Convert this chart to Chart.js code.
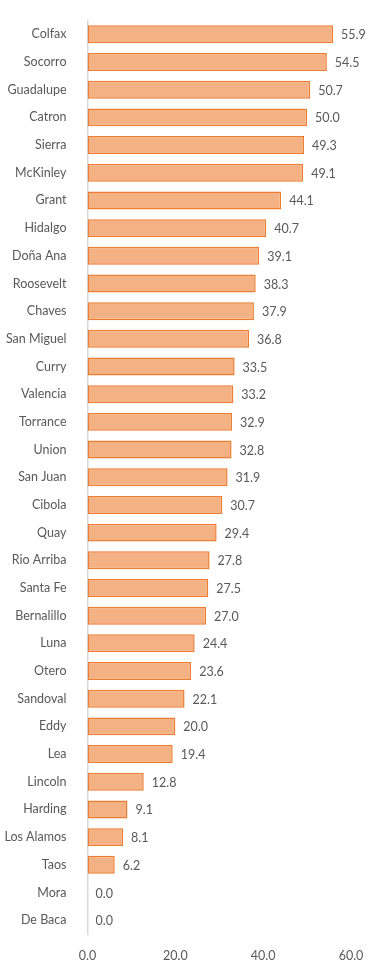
<!DOCTYPE html>
<html lang="en">
<head>
    <meta charset="UTF-8">
    <title>County rates</title>
    <script src="https://cdn.jsdelivr.net/npm/chart.js"></script>
    <style>
        body { margin: 0; background: #fff; }
        #wrap { width: 371px; height: 960px; }
    </style>
</head>
<body>
    <div id="wrap"><canvas id="myChart" width="371" height="960"></canvas></div>

    <script>
        const counties = [
            "Colfax", "Socorro", "Guadalupe", "Catron", "Sierra", "McKinley", "Grant",
            "Hidalgo", "Doña Ana", "Roosevelt", "Chaves", "San Miguel", "Curry", "Valencia",
            "Torrance", "Union", "San Juan", "Cibola", "Quay", "Rio Arriba", "Santa Fe",
            "Bernalillo", "Luna", "Otero", "Sandoval", "Eddy", "Lea", "Lincoln", "Harding",
            "Los Alamos", "Taos", "Mora", "De Baca"
        ];
        const rates = [
            55.9, 54.5, 50.7, 50.0, 49.3, 49.1, 44.1,
            40.7, 39.1, 38.3, 37.9, 36.8, 33.5, 33.2,
            32.9, 32.8, 31.9, 30.7, 29.4, 27.8, 27.5,
            27.0, 24.4, 23.6, 22.1, 20.0, 19.4, 12.8, 9.1,
            8.1, 6.2, 0.0, 0.0
        ];
        const xTicks = [0, 20, 40, 60];

        const textColor = '#595959';
        const fontFamily = 'Lato, "Open Sans", sans-serif';

        // value labels to the right of each bar
        const valueLabels = {
            id: 'valueLabels',
            afterDatasetsDraw(chart) {
                const ctx = chart.ctx;
                const meta = chart.getDatasetMeta(0);
                ctx.save();
                ctx.fillStyle = textColor;
                ctx.font = '12.5px ' + fontFamily;
                ctx.textAlign = 'left';
                ctx.textBaseline = 'middle';
                meta.data.forEach((bar, i) => {
                    ctx.fillText(rates[i].toFixed(1), bar.x + 8, bar.y + 1);
                });
                ctx.restore();
            }
        };

        const ctx = document.getElementById('myChart').getContext('2d');
        new Chart(ctx, {
            type: 'bar',
            data: {
                labels: counties,
                datasets: [{
                    data: rates,
                    backgroundColor: '#F4B183',
                    borderColor: '#ED7D31',
                    borderWidth: c => (rates[c.dataIndex] > 0 ? 1.5 : 0),
                    borderSkipped: false,
                    barPercentage: 0.72,
                    categoryPercentage: 0.9
                }]
            },
            options: {
                indexAxis: 'y',
                responsive: false,
                animation: false,
                layout: { padding: { left: 0, top: 17, right: 20, bottom: 0 } },
                plugins: {
                    legend: { display: false },
                    tooltip: { enabled: false }
                },
                scales: {
                    x: {
                        min: 0,
                        max: 60,
                        afterBuildTicks: s => { s.ticks = xTicks.map(v => ({ value: v })); },
                        afterFit: s => { s.height = 26; },
                        grid: { display: false },
                        border: { display: false },
                        ticks: {
                            color: textColor,
                            font: { family: fontFamily, size: 12.5 },
                            padding: 6,
                            maxRotation: 0,
                            callback: v => v.toFixed(1)
                        }
                    },
                    y: {
                        afterFit: s => { s.width = 87.5; },
                        grid: { display: false },
                        border: { display: true, color: '#D9D9D9', width: 1.5 },
                        ticks: {
                            color: textColor,
                            font: { family: fontFamily, size: 12.5 },
                            padding: 13,
                            autoSkip: false
                        }
                    }
                }
            },
            plugins: [valueLabels]
        });
    </script>
</body>
</html>
